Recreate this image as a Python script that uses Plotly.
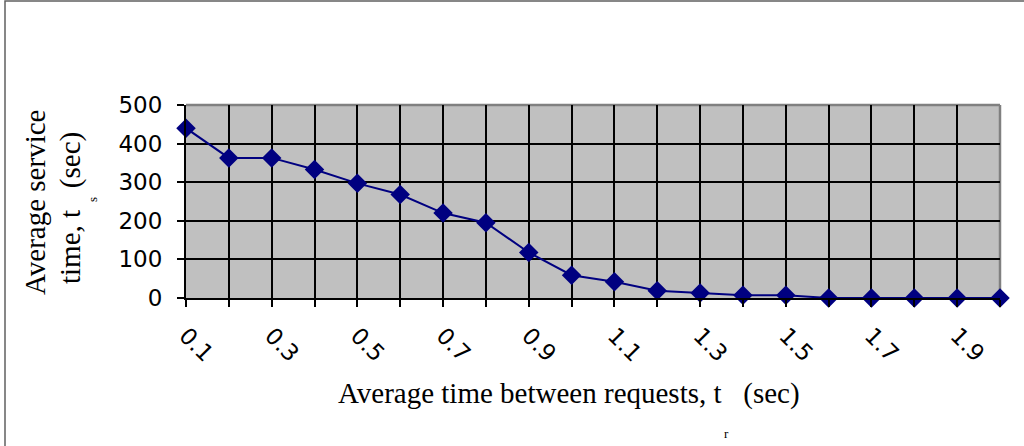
import plotly.graph_objects as go

# ---- data ----
x_values = [0.1, 0.2, 0.3, 0.4, 0.5, 0.6, 0.7, 0.8, 0.9, 1.0,
            1.1, 1.2, 1.3, 1.4, 1.5, 1.6, 1.7, 1.8, 1.9, 2.0]
service_time = [440, 363, 363, 333, 297, 268, 220, 195, 118, 59,
                42, 19, 13, 7, 7, 0, 0, 0, 0, 0]
x_tick_labels = ["0.1", "", "0.3", "", "0.5", "", "0.7", "", "0.9", "",
                 "1.1", "", "1.3", "", "1.5", "", "1.7", "", "1.9", ""]
y_tick_values = [0, 100, 200, 300, 400, 500]

W, H = 1024, 446
L, R, T, B = 186, 24, 105, 148
PW, PH = W - L - R, H - T - B


def px(xp):
    return (xp - L) / PW


def py(yp):
    return (H - B - yp) / PH


serif = "Liberation Serif, Times New Roman, serif"
sans = "DejaVu Sans, Verdana, sans-serif"
navy = "#000080"

fig = go.Figure()
fig.add_trace(go.Scatter(
    x=x_values, y=service_time, mode="lines+markers",
    line=dict(color=navy, width=2),
    marker=dict(symbol="diamond", size=15, color=navy),
    cliponaxis=False, showlegend=False,
))

fig.update_layout(
    width=W, height=H,
    margin=dict(l=L, r=R, t=T, b=B),
    paper_bgcolor="white", plot_bgcolor="#C0C0C0",
    xaxis=dict(
        range=[0.1, 2.0], tickmode="array", tickvals=x_values, ticktext=x_tick_labels,
        tickangle=45, ticks="outside", ticklen=7, tickcolor="black", tickwidth=1.5,
        showline=True, linecolor="black", linewidth=2,
        showgrid=True, gridcolor="black", gridwidth=1.6, zeroline=False,
        tickfont=dict(family=sans, size=23, color="black"),
        ticklabelstandoff=6,
    ),
    yaxis=dict(
        range=[0, 500], tickmode="array", tickvals=y_tick_values,
        ticks="outside", ticklen=7, tickcolor="black", tickwidth=1.5,
        showline=True, linecolor="black", linewidth=2,
        showgrid=True, gridcolor="black", gridwidth=1.6, zeroline=False,
        tickfont=dict(family=sans, size=23, color="black"),
        ticklabelstandoff=10,
    ),
    shapes=[
        # plot-area top and right border (gray)
        dict(type="line", xref="paper", yref="paper", x0=0, x1=1, y0=1, y1=1,
             line=dict(color="#808080", width=2.5), layer="between"),
        dict(type="line", xref="paper", yref="paper", x0=1, x1=1, y0=0, y1=1,
             line=dict(color="#808080", width=2.5), layer="between"),
        # outer chart border
        dict(type="rect", xref="paper", yref="paper",
             x0=px(5), x1=px(1030), y0=py(1), y1=py(452),
             line=dict(color="#606060", width=1.5), layer="below"),
    ],
    annotations=[
        dict(text="Average service", textangle=-90, xref="paper", yref="paper",
             x=px(35), y=py(203), xanchor="center", yanchor="middle", showarrow=False,
             font=dict(family=serif, size=29, color="black")),
        dict(text="time, t\u00a0\u00a0\u00a0(sec)", textangle=-90, xref="paper", yref="paper",
             x=px(70), y=py(208), xanchor="center", yanchor="middle", showarrow=False,
             font=dict(family=serif, size=29, color="black")),
        dict(text="s", textangle=-90, xref="paper", yref="paper",
             x=px(92), y=py(200), xanchor="center", yanchor="middle", showarrow=False,
             font=dict(family=serif, size=13, color="black")),
        dict(text="Average time between requests, t\u00a0\u00a0\u00a0(sec)", xref="paper", yref="paper",
             x=px(569), y=py(393), xanchor="center", yanchor="middle", showarrow=False,
             font=dict(family=serif, size=29, color="black")),
        dict(text="r", xref="paper", yref="paper",
             x=px(726), y=py(434), xanchor="center", yanchor="middle", showarrow=False,
             font=dict(family=serif, size=13, color="black")),
    ],
)

fig.write_html("out.html")
